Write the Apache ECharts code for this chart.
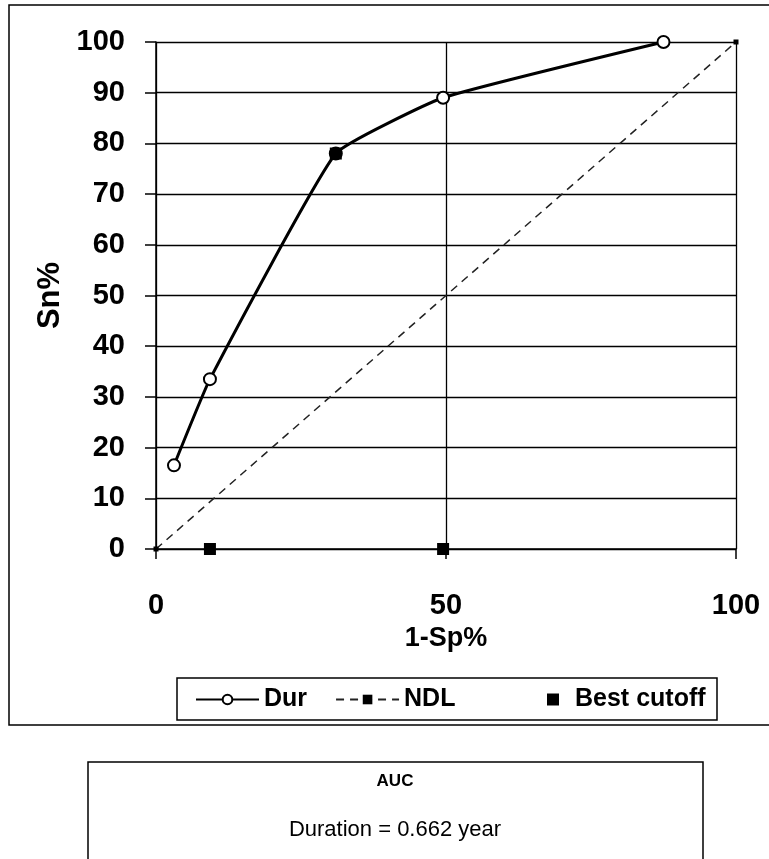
<!DOCTYPE html>
<html>
<head>
<meta charset="utf-8">
<script src="https://cdn.jsdelivr.net/npm/echarts@6/dist/echarts.min.js"></script>
<style>
html, body { margin: 0; padding: 0; background: #fff; }
#main { width: 769px; height: 859px; }
</style>
</head>
<body>
<div id="main"></div>
<script>
var xTicks = [0, 50, 100];
var yTicks = [0, 10, 20, 30, 40, 50, 60, 70, 80, 90, 100];
var durData = [[3.1, 16.5], [9.3, 33.5], [31, 78], [49.5, 89], [87.5, 100]];
var ndlData = [[0, 0], [100, 100]];
var cutoffData = [[31, 78], [9.3, 0], [49.5, 0]];
var aucTitle = 'AUC';
var aucText = 'Duration = 0.662 year';

var myChart = echarts.init(document.getElementById('main'));
var font = 'Liberation Sans, Arial, sans-serif';

var option = {
	animation: false,
	backgroundColor: '#fff',
	textStyle: { fontFamily: font },
	grid: {
		left: 156,
		right: 33,
		top: 42,
		bottom: 310
	},
	xAxis: {
		type: 'value',
		min: xTicks[0],
		max: xTicks[xTicks.length - 1],
		interval: 50,
		name: '1-Sp%',
		nameLocation: 'middle',
		nameGap: 74,
		nameTextStyle: { color: '#000', fontSize: 27, fontWeight: 'bold', fontFamily: font },
		axisLine: { show: true, lineStyle: { color: '#000', width: 1.5 } },
		axisTick: { show: true, inside: false, length: 10, lineStyle: { color: '#000', width: 1.5 } },
		axisLabel: { color: '#000', fontSize: 29, fontWeight: 'bold', margin: 42, fontFamily: font },
		splitLine: { show: true, lineStyle: { color: '#000', width: 1.3 } }
	},
	yAxis: {
		type: 'value',
		min: yTicks[0],
		max: yTicks[yTicks.length - 1],
		interval: 10,
		name: 'Sn%',
		nameLocation: 'middle',
		nameRotate: 90,
		nameGap: 87,
		nameTextStyle: { color: '#000', fontSize: 31, fontWeight: 'bold', fontFamily: font },
		axisLine: { show: true, lineStyle: { color: '#000', width: 1.5 } },
		axisTick: { show: true, inside: false, length: 11, lineStyle: { color: '#000', width: 1.5 } },
		axisLabel: { color: '#000', fontSize: 29, fontWeight: 'bold', margin: 31, fontFamily: font },
		splitLine: { show: true, lineStyle: { color: '#000', width: 1.3 } }
	},
	legend: [{
		left: 195,
		top: 687,
		padding: 0,
		itemGap: 28,
		itemWidth: 63,
		itemHeight: 12,
		textStyle: { color: '#000', fontSize: 25, lineHeight: 25, fontWeight: 'bold', fontFamily: font },
		data: ['Dur', 'NDL']
	}, {
		left: 547,
		top: 687,
		padding: 0,
		itemWidth: 12,
		itemHeight: 12,
		textStyle: { color: '#000', fontSize: 25, lineHeight: 25, fontWeight: 'bold', fontFamily: font, padding: [0, 0, 0, 11] },
		data: ['Best cutoff']
	}],
	series: [{
		name: 'NDL',
		type: 'line',
		data: ndlData,
		symbol: 'rect',
		symbolSize: 5,
		itemStyle: { color: '#000' },
		lineStyle: { color: '#222', width: 1.5, type: [8, 6] },
		z: 2
	}, {
		name: 'Dur',
		type: 'line',
		data: durData,
		smooth: 0.12,
		symbol: 'emptyCircle',
		symbolSize: 12,
		itemStyle: { color: '#000', borderWidth: 1.3 },
		lineStyle: { color: '#000', width: 3 },
		z: 3
	}, {
		name: 'Best cutoff',
		type: 'scatter',
		data: cutoffData,
		symbol: 'rect',
		symbolSize: 12,
		itemStyle: { color: '#000', opacity: 1 },
		z: 4
	}],
	graphic: [{
		type: 'rect',
		shape: { x: 9, y: 5, width: 780, height: 720 },
		style: { fill: null, stroke: '#000', lineWidth: 1.5 },
		z: -1
	}, {
		type: 'rect',
		shape: { x: 177, y: 678, width: 540, height: 42 },
		style: { fill: null, stroke: '#000', lineWidth: 1.5 }
	}, {
		type: 'rect',
		shape: { x: 88, y: 762, width: 615, height: 120 },
		style: { fill: null, stroke: '#000', lineWidth: 1.5 }
	}, {
		type: 'text',
		x: 395,
		y: 781,
		style: { text: aucTitle, fill: '#000', font: 'bold 17px ' + font, align: 'center', verticalAlign: 'middle' }
	}, {
		type: 'text',
		x: 395,
		y: 830,
		style: { text: aucText, fill: '#000', font: '22px ' + font, align: 'center', verticalAlign: 'middle' }
	}]
};
myChart.setOption(option);
window.addEventListener('resize', function () {
	myChart.resize();
}, false);
</script>
</body>
</html>
